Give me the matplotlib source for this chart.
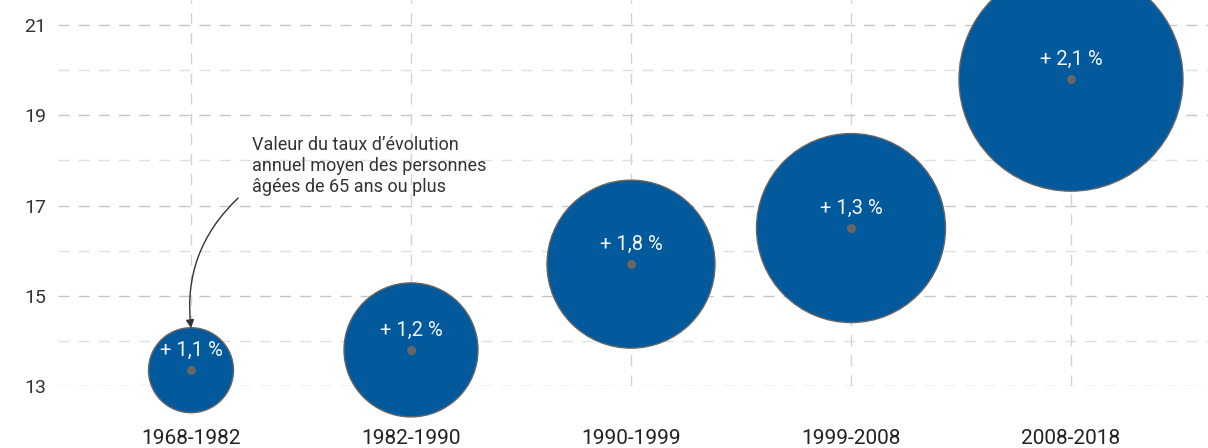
import matplotlib
matplotlib.use("Agg")
import matplotlib.pyplot as plt

# Data
periods = ["1968-1982", "1982-1990", "1990-1999", "1999-2008", "2008-2018"]
share_65plus = [13.35, 13.8, 15.7, 16.5, 19.8]
growth_labels = ["+ 1,1 %", "+ 1,2 %", "+ 1,8 %", "+ 1,3 %", "+ 2,1 %"]
bubble_size = [85, 134, 168, 189, 224]
y_ticks = [13, 15, 17, 19, 21]
y_minor = [14, 16, 18, 20]
note = "Valeur du taux d\u2019\u00e9volution\nannuel moyen des personnes\n\u00e2g\u00e9es de 65 ans ou plus"

plt.rcParams["font.family"] = ["Roboto", "DejaVu Sans"]

DPI = 100
W, H = 1208, 448
fig = plt.figure(figsize=(W / DPI, H / DPI), dpi=DPI)

# axes box in pixels
left_px, right_px, top_px, bottom_px = 58, 1208, 0, 386
ax = fig.add_axes([left_px / W, 1 - bottom_px / H,
                   (right_px - left_px) / W, (bottom_px - top_px) / H])

x = list(range(len(periods)))
px_per_cat = 220.0
x0_px = 191.0
ax.set_xlim((left_px - x0_px) / px_per_cat, (right_px - x0_px) / px_per_cat)
px_per_unit = 45.1
ax.set_ylim(13, 21 + 25 / px_per_unit)

for s in ax.spines.values():
    s.set_visible(False)

dash = (8, 6.5)
for v in y_ticks:
    ax.axhline(v, color="#c6c6c6", lw=1.0, dashes=dash, zorder=0)
for v in y_minor:
    ax.axhline(v, color="#e0e0e0", lw=1.0, dashes=dash, zorder=0)
for xi in x:
    ax.axvline(xi, color="#d2d2d2", lw=1.0, dashes=dash, zorder=0)

# bubbles: size value interpreted as diameter in pixels
sizes = [(d * 72 / DPI) ** 2 for d in bubble_size]
ax.scatter(x, share_65plus, s=sizes, color="#02599c", edgecolor="#666666",
           linewidth=1.0, zorder=2, clip_on=False)
ax.scatter(x, share_65plus, s=30, color="#666666", zorder=3, clip_on=False)

for xi, yi, lab in zip(x, share_65plus, growth_labels):
    ax.annotate(lab, (xi, yi), xytext=(0, 14), textcoords="offset points",
                ha="center", va="center", color="#f4f6fa", fontsize=14.5, zorder=4)

ax.set_xticks(x)
ax.set_xticklabels(periods, fontsize=15, color="#222222")
ax.set_yticks(y_ticks)
ax.set_yticklabels([str(v) for v in y_ticks], fontsize=14, color="#333333")
ax.tick_params(axis="x", length=0, pad=31)
ax.tick_params(axis="y", length=0, pad=8.5)

# annotation note and curved arrow
ax.text((252 - x0_px) / px_per_cat, 21 - (136 - 25) / px_per_unit, note,
        ha="left", va="top", fontsize=13, color="#333333", linespacing=1.2)
ax.annotate("", xy=(0, 21 - (328 - 25) / px_per_unit),
            xytext=((238 - x0_px) / px_per_cat, 21 - (198 - 25) / px_per_unit),
            arrowprops=dict(arrowstyle="-|>", color="#333333", lw=1.0,
                            mutation_scale=12,
                            connectionstyle="arc3,rad=0.25", shrinkA=0, shrinkB=0),
            zorder=5)

fig.savefig("out.png", dpi=DPI)
